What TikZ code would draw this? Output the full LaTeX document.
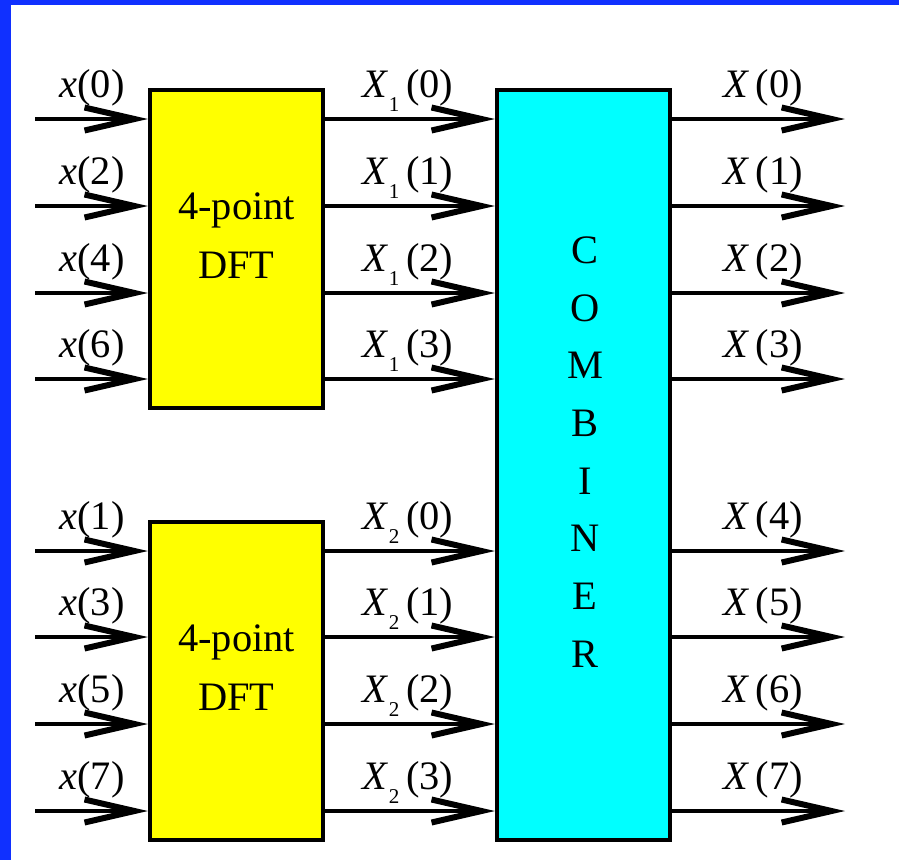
\documentclass[tikz,border=0pt]{standalone}
\usepackage{fontspec}
\setmainfont{Liberation Serif}
\usetikzlibrary{arrows.meta}
\definecolor{slideblue}{RGB}{16,48,255}
\definecolor{dftyellow}{RGB}{255,255,0}
\definecolor{combcyan}{RGB}{0,255,255}
\tikzset{
  sig/.style={line width=0.09cm, -{Straight Barb[length=1.0cm, width=0.46cm, line width=0.12cm]}},
  blk/.style={draw, line width=0.085cm, minimum width=3.46cm, inner sep=0pt},
  lbl/.style={font=\fontsize{23}{28}\selectfont, inner sep=0pt, anchor=base},
  boxtext/.style={font=\fontsize{23}{33.6}\selectfont, align=center, inner sep=0pt},
}

\begin{document}
\begin{tikzpicture}[x=0.02cm, y=-0.02cm]
    % Frame
    \fill[slideblue] (0,0) rectangle (899,860);
    \fill[white] (11,5) rectangle (899,860);
    \useasboundingbox (0,0) rectangle (899,860);

    % Blocks
    \node[blk, fill=dftyellow, minimum height=6.36cm] (dft1) at (236.5,249) {};
    \node[blk, fill=dftyellow, minimum height=6.36cm] (dft2) at (236.5,681) {};
    \node[blk, fill=combcyan, minimum height=15cm] (comb) at (583.5,465) {};
    \node[boxtext] (dft1text) at (236.5,236) {4-point\\DFT};
    \node[boxtext] (dft2text) at (236.5,668) {4-point\\DFT};
    \node[boxtext, font=\fontsize{23}{32.8}\selectfont] (combtext) at (585,452)
        {C\\O\\M\\B\\I\\N\\E\\R};

    % Signals
    \foreach \y/\n/\k/\s/\o in {119/0/0/1/0, 206/2/1/1/1, 293/4/2/1/2, 379/6/3/1/3,
                                551/1/0/2/4, 637/3/1/2/5, 724/5/2/2/6, 811/7/3/2/7} {
        \coordinate (in\o) at (35,\y);
        \coordinate (out\o) at (845,\y);
        \draw[sig] (in\o) -- (in\o -| dft\s.west);
        \draw[sig] (in\o -| dft\s.east) -- (in\o -| comb.west);
        \draw[sig] (in\o -| comb.east) -- (out\o);
        \node[lbl] (xin\o) at (92,\y-22) {\textit{x}(\n)};
        \node[lbl] (Xmid\o) at (408,\y-22)
            {\textit{X}\raisebox{-8pt}{\fontsize{12}{12}\selectfont \s}\,(\k)};
        \node[lbl] (Xout\o) at (763,\y-22) {\textit{X}\,(\o)};
    }
\end{tikzpicture}
\end{document}
